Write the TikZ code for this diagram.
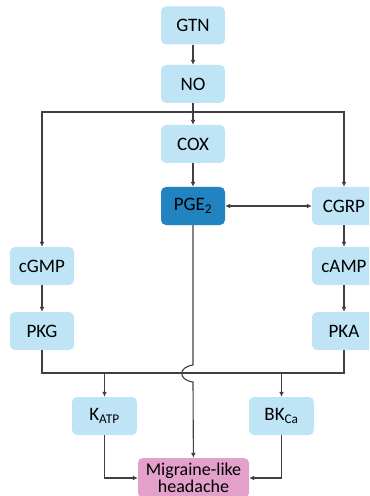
\documentclass[tikz,border=0pt]{standalone}
\usepackage{fontspec}
\setmainfont{Carlito}
\usetikzlibrary{arrows.meta}

\definecolor{lightbox}{HTML}{BEE4F6}
\definecolor{darkbox}{HTML}{2183BF}
\definecolor{pinkbox}{HTML}{E2A0CB}
\definecolor{linegray}{HTML}{404040}

\tikzset{
    pathbox/.style={rounded corners=5bp, fill=lightbox, minimum width=64bp,
        minimum height=38bp, inner sep=0pt, text=black,
        font=\fontsize{19bp}{18bp}\selectfont},
    arr/.style={draw=linegray, line width=1.1bp,
        -{Latex[length=5bp,width=5bp]}},
    arrr/.style={draw=linegray, line width=1.1bp,
        {Latex[length=5bp,width=5bp]}-{Latex[length=5bp,width=5bp]}},
    plain/.style={draw=linegray, line width=1.1bp}
}

\begin{document}
\begin{tikzpicture}[x=1bp, y=-1bp]
\useasboundingbox (0,0) rectangle (369,496);
\clip (0,0) rectangle (369,496);

% centre column
\node[pathbox] (gtn) at (193,25.5) {GTN};
\node[pathbox] (no) at (193,84) {NO};
\node[pathbox] (cox) at (193,144) {COX};
\node[pathbox, fill=darkbox] (pge) at (193,206) {PGE\textsubscript{2}};

% left branch
\node[pathbox] (cgmp) at (42,266) {cGMP};
\node[pathbox] (pkg) at (42,331) {PKG};

% right branch
\node[pathbox] (cgrp) at (344,206) {CGRP};
\node[pathbox] (camp) at (344,266) {cAMP};
\node[pathbox] (pka) at (344,331) {PKA};

% channels
\node[pathbox, minimum width=65bp] (katp) at (104.5,416) {K\textsubscript{ATP}};
\node[pathbox, minimum width=65bp] (bkca) at (281.5,416) {BK\textsubscript{Ca}};

% outcome
\node[pathbox, fill=pinkbox, minimum width=111bp, minimum height=40bp,
    align=center, font=\fontsize{18bp}{17bp}\selectfont]
    (mig) at (193.5,478) {Migraine-like\\headache};

% helper points
\coordinate (split) at (193,112);
\coordinate (bus) at (193,373);
\coordinate (jmpa) at (193,365);
\coordinate (jmpb) at (193,382);

% connectors
\draw[arr] (gtn) -- (no);
\draw[arr] (no) -- (cox);
\draw[arr] (cox) -- (pge);
\draw[arr] (split) -| (cgmp);
\draw[arr] (split) -| (cgrp);
\draw[arrr] (pge) -- (cgrp);
\draw[arr] (cgmp) -- (pkg);
\draw[arr] (cgrp) -- (camp);
\draw[arr] (camp) -- (pka);

% bottom bus with jump over PGE2 line
\draw[plain] (pkg) |- (bus) -| (pka);
\draw[arr] (katp |- bus) -- (katp);
\draw[arr] (bkca |- bus) -- (bkca);
\draw[arr] (pge) -- (jmpa) .. controls (178,367) and (178,380) .. (jmpb) -- (mig);

\draw[arr] (katp) |- (mig);
\draw[arr] (bkca) |- (mig);

\end{tikzpicture}
\end{document}
